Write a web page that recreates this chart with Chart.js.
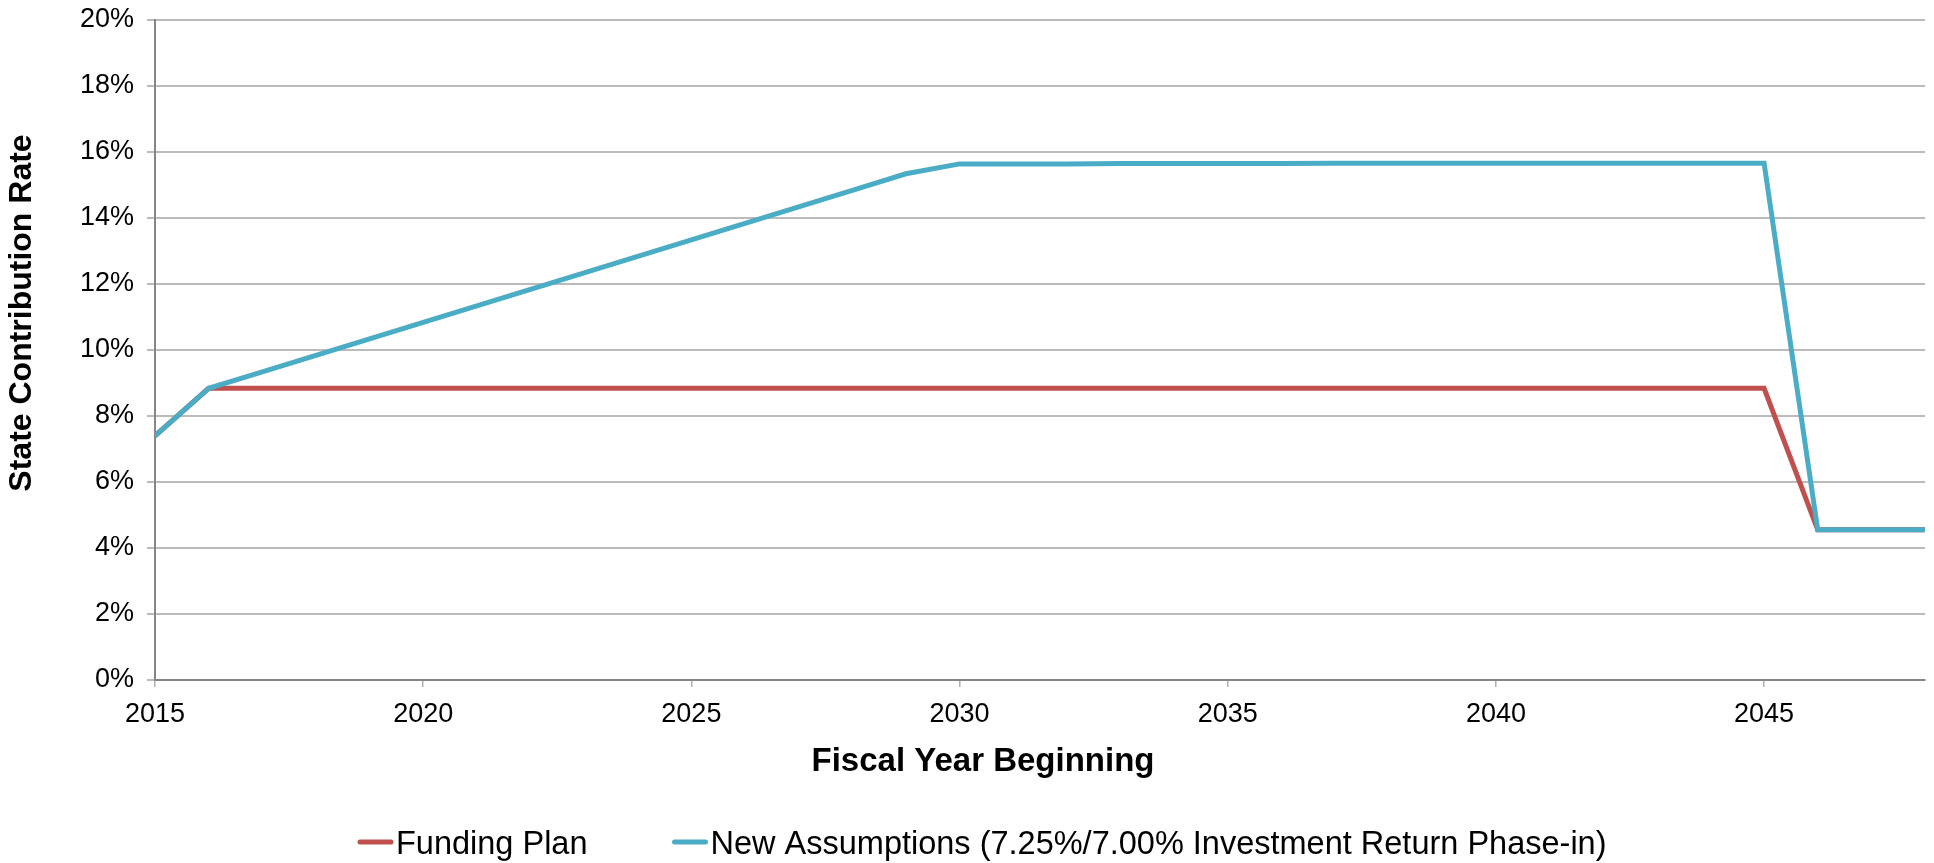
<!DOCTYPE html>
<html>
<head>
<meta charset="utf-8">
<title>State Contribution Rate</title>
<script src="https://cdn.jsdelivr.net/npm/chart.js@4.4.1/dist/chart.umd.min.js"></script>
<style>
  html, body { margin: 0; padding: 0; background: #ffffff; }
  #wrap { width: 1934px; height: 863px; }
</style>
</head>
<body>
<div id="wrap"><canvas id="myChart" width="1934" height="863"></canvas></div>
<script>
// fiscal years on the x axis
var years = [2015, 2016, 2017, 2018, 2019, 2020, 2021, 2022, 2023, 2024, 2025, 2026,
  2027, 2028, 2029, 2030, 2031, 2032, 2033, 2034, 2035, 2036, 2037, 2038, 2039, 2040,
  2041, 2042, 2043, 2044, 2045, 2046, 2047, 2048];

// state contribution rate, percent
var fundingPlan = [7.40, 8.84, 8.84, 8.84, 8.84, 8.84, 8.84, 8.84, 8.84, 8.84, 8.84, 8.84,
  8.84, 8.84, 8.84, 8.84, 8.84, 8.84, 8.84, 8.84, 8.84, 8.84, 8.84, 8.84, 8.84, 8.84,
  8.84, 8.84, 8.84, 8.84, 8.84, 4.55, 4.55, 4.55];
var newAssumptions = [7.40, 8.84, 9.34, 9.84, 10.34, 10.84, 11.34, 11.84, 12.34, 12.84, 13.34, 13.84,
  14.34, 14.84, 15.34, 15.64, 15.64, 15.64, 15.65, 15.65, 15.65, 15.65, 15.66, 15.66, 15.66, 15.66,
  15.66, 15.66, 15.66, 15.66, 15.66, 4.55, 4.55, 4.55];

var seriesNames = ['Funding Plan', 'New Assumptions (7.25%/7.00% Investment Return Phase-in)'];
var seriesColors = ['#C0504D', '#4BACC6'];
var yTicks = [0, 2, 4, 6, 8, 10, 12, 14, 16, 18, 20];
var xTitle = 'Fiscal Year Beginning';
var yTitle = 'State Contribution Rate';

var FONT = '"Liberation Sans", Arial, sans-serif';

function toPoints(values) {
  return years.map(function (y, i) { return { x: y, y: values[i] }; });
}

// axis titles and legend, drawn where the original has them
var extrasPlugin = {
  id: 'extras',
  afterDraw: function (chart) {
    var ctx = chart.ctx;
    ctx.save();
    ctx.fillStyle = '#000000';

    // x title
    ctx.font = 'bold 33px ' + FONT;
    ctx.textAlign = 'center';
    ctx.textBaseline = 'middle';
    ctx.fillText(xTitle, 983, 762);

    // y title
    ctx.save();
    ctx.translate(22, 313);
    ctx.rotate(-Math.PI / 2);
    ctx.font = 'bold 32px ' + FONT;
    ctx.fillText(yTitle, 0, 0);
    ctx.restore();

    // legend
    ctx.font = '32.5px ' + FONT;
    ctx.textAlign = 'left';
    ctx.textBaseline = 'alphabetic';
    var x = 358, yMid = 842;
    seriesNames.forEach(function (name, i) {
      ctx.strokeStyle = seriesColors[i];
      ctx.lineWidth = 5;
      ctx.lineCap = 'round';
      ctx.beginPath();
      ctx.moveTo(x + 2, yMid);
      ctx.lineTo(x + 33, yMid);
      ctx.stroke();
      ctx.fillText(name, x + 38, yMid + 12);
      x += 38 + ctx.measureText(name).width + 85;
    });
    ctx.restore();
  }
};

var ctx = document.getElementById('myChart');
var chart = new Chart(ctx, {
  type: 'line',
  data: {
    datasets: [{
      label: seriesNames[0],
      data: toPoints(fundingPlan),
      borderColor: seriesColors[0],
      backgroundColor: seriesColors[0],
      borderWidth: 5,
      pointRadius: 0,
      tension: 0,
      order: 1
    }, {
      label: seriesNames[1],
      data: toPoints(newAssumptions),
      borderColor: seriesColors[1],
      backgroundColor: seriesColors[1],
      borderWidth: 5,
      pointRadius: 0,
      tension: 0,
      order: 0
    }]
  },
  options: {
    responsive: false,
    animation: false,
    layout: { padding: { left: 0, right: 9, top: 20, bottom: 123 } },
    plugins: {
      legend: { display: false },
      tooltip: { enabled: false }
    },
    scales: {
      x: {
        type: 'linear',
        min: years[0],
        max: years[years.length - 1],
        afterFit: function (s) { s.height = 60; },
        border: { color: '#868686', width: 2 },
        grid: { drawOnChartArea: false, drawTicks: true, tickLength: 7, color: '#B0B0B0', lineWidth: 1.5 },
        ticks: {
          stepSize: 5,
          includeBounds: false,
          padding: 11,
          color: '#000000',
          font: { family: FONT, size: 27 },
          callback: function (v) { return String(v); }
        }
      },
      y: {
        min: yTicks[0],
        max: yTicks[yTicks.length - 1],
        afterFit: function (s) {
          s.width = 155;
          s.paddingTop = 0;
          s.paddingBottom = 0;
        },
        afterBuildTicks: function (s) { s.ticks = yTicks.map(function (v) { return { value: v }; }); },
        border: { color: '#868686', width: 2 },
        grid: { color: '#BBBBBB', lineWidth: 2, tickLength: 8 },
        ticks: {
          padding: 13,
          color: '#000000',
          font: { family: FONT, size: 27 },
          callback: function (v) { return v + '%'; }
        }
      }
    }
  },
  plugins: [extrasPlugin]
});
</script>
</body>
</html>
